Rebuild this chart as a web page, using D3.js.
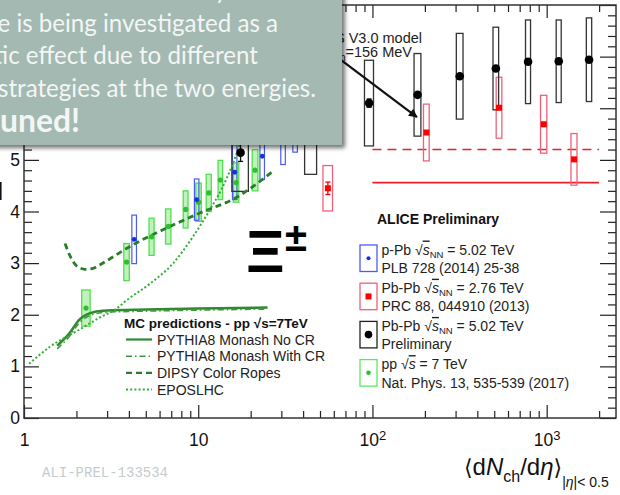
<!DOCTYPE html>
<html><head><meta charset="utf-8">
<script src="https://cdn.jsdelivr.net/npm/d3@7"></script>
<style>body{margin:0;background:#fff}svg{display:block}</style>
</head><body>
<svg id="c" width="620" height="495"></svg>
<script>
// ---------------- data ----------------
// Pb-Pb sqrt(sNN)=5.02 TeV (preliminary)
const pbpb502X    = [17.5, 44.3, 95.7, 181.5, 317, 511, 782, 1173, 1751];
const pbpb502Y    = [5.14, 5.55, 6.10, 6.26, 6.62, 6.77, 6.90, 6.91, 6.94];
const pbpb502Stat = [0.17, 0.08, 0.08, 0.05, 0.04, 0.04, 0.04, 0.04, 0.04];
const pbpb502Sys  = [0.75, 0.83, 0.83, 0.80, 0.83, 0.80, 0.81, 0.80, 0.81];
const pbpb502XErr = [1.9, 3.5, 5.7, 8.2, 14, 19, 26, 39, 62];
// Pb-Pb 2.76 TeV
const pbpb276X    = [55.5, 204, 533, 962, 1436];
const pbpb276Y    = [4.45, 5.53, 6.01, 5.69, 5.01];
const pbpb276Stat = [0.12, 0.05, 0.05, 0.05, 0.05];
const pbpb276Sys  = [0.44, 0.55, 0.59, 0.56, 0.50];
const pbpb276XErr = [3.5, 7.7, 20, 40, 57];
// p-Pb 5.02 TeV
const ppbX    = [4.29, 9.8, 16.2, 23.3, 30.7, 36.0];
const ppbY    = [3.46, 4.23, 4.76, 5.07, 5.36, 5.60];
const ppbSys  = [0.47, 0.40, 0.53, 0.45, 0.45, 0.45];
const ppbXErr = [0.13, 0.29, 0.48, 0.70, 0.92, 1.08];
// pp 7 TeV
const ppX    = [2.27, 3.88, 5.40, 6.73, 8.47, 10.05, 11.5, 13.4, 16.5, 21.2];
const ppY    = [2.13, 3.02, 3.51, 3.71, 4.04, 4.18, 4.36, 4.61, 4.56, 4.80];
const ppSys  = [0.35, 0.36, 0.36, 0.34, 0.36, 0.37, 0.36, 0.38, 0.38, 0.40];
const ppXErr = [0.127, 0.14, 0.18, 0.24, 0.27, 0.36, 0.39, 0.40, 0.60, 0.80];
// THERMUS lines
const thermusRange  = [100, 2000];
const thermusValues = [5.20, 4.56];   // dashed, solid
const arrowFrom = [65, 6.95];
const arrowTo   = [180, 5.83];
// MC curves [x, ratio]
const pythiaNoCR = [[1.55,1.40],[1.8,1.62],[2.1,1.92],[2.5,2.05],[3,2.08],[5,2.10],[10,2.12],[25,2.14]];
const pythiaCR   = [[1.55,1.34],[1.8,1.56],[2.1,1.86],[2.5,2.01],[3,2.05],[5,2.07],[10,2.09],[25,2.11]];
const dipsy      = [[1.72,3.38],[1.85,3.12],[2.0,2.95],[2.24,2.88],[2.5,2.90],[2.73,2.97],[4.24,3.36],[6.59,3.68],[10.2,3.97],[16.5,4.27],[26.4,4.76]];
const eposlhc    = [[1.07,1.05],[1.41,1.38],[2.1,1.72],[2.7,1.94],[3.4,2.12],[3.88,2.28],[5.28,2.6],[7.19,3.0],[9.36,3.52],[11.7,4.04],[13.6,4.43],[15.9,4.95],[17.3,5.3],[19,5.7]];
// ticks
const yMajor = [0,1,2,3,4,5,6,7,8];
const yMinor = d3.range(0, 8.001, 0.2).filter(v => Math.abs(v - Math.round(v)) > 1e-6);
const xMajor = [1, 10, 100, 1000];
const xMinor = [2,3,4,5,6,7,8,9,20,30,40,50,60,70,80,90,200,300,400,500,600,700,800,900,2000];
// legend texts
const mcLegend = ["PYTHIA8 Monash No CR","PYTHIA8 Monash With CR","DIPSY Color Ropes","EPOSLHC"];
const overlayLines = [
  "performance vs. under ve analysis. The",
  "difference is being investigated as a",
  "systematic effect due to different",
  "analysis strategies at the two energies."
];

// ---------------- drawing ----------------
const svg = d3.select("#c");
const FONT = "'Liberation Sans', Arial, Helvetica, sans-serif";
const x = d3.scaleLog().domain([1, 2500]).range([24, 616]);
const y = d3.scaleLinear().domain([0, 8]).range([418, 5]);

const defs = svg.append("defs");
defs.append("filter").attr("id","sh").attr("x","-10%").attr("y","-10%").attr("width","130%").attr("height","130%")
  .append("feDropShadow").attr("dx",3).attr("dy",3).attr("stdDeviation",2).attr("flood-color","#000").attr("flood-opacity",0.55);
defs.append("marker").attr("id","ah").attr("viewBox","0 0 10 10").attr("refX",9).attr("refY",5)
  .attr("markerWidth",5).attr("markerHeight",4).attr("markerUnits","strokeWidth").attr("orient","auto")
  .append("path").attr("d","M0,0L10,5L0,10z").attr("fill","#111");

svg.append("rect").attr("width",620).attr("height",495).attr("fill","#fff");

// axes
function styleAxis(g){ g.select(".domain").remove(); g.selectAll("line").attr("stroke","#222").attr("stroke-width",1.2);
  g.selectAll("text").attr("font-family",FONT).attr("font-size",17.5).attr("fill","#111"); }
svg.append("g").attr("transform","translate(24,0)")
  .call(d3.axisLeft(y).tickValues(yMajor).tickSize(-15).tickPadding(4).tickFormat(d3.format("d"))).call(styleAxis);
svg.append("g").attr("transform","translate(24,0)")
  .call(d3.axisLeft(y).tickValues(yMinor).tickSize(-8).tickFormat("")).call(styleAxis);
svg.append("g").attr("transform","translate(616,0)")
  .call(d3.axisRight(y).tickValues(yMajor).tickSize(-16).tickFormat("")).call(styleAxis);
svg.append("g").attr("transform","translate(616,0)")
  .call(d3.axisRight(y).tickValues(yMinor).tickSize(-8).tickFormat("")).call(styleAxis);
const bx = svg.append("g").attr("transform","translate(0,418)")
  .call(d3.axisBottom(x).tickValues(xMajor).tickSize(-13).tickPadding(16).tickFormat(d => d < 100 ? String(d) : "10")).call(styleAxis);
bx.selectAll("text").each(function(d){
  if (d >= 100) d3.select(this).append("tspan").attr("dy","-0.5em").attr("font-size",13).text(Math.round(Math.log10(d)));
});
svg.append("g").attr("transform","translate(0,418)")
  .call(d3.axisBottom(x).tickValues(xMinor).tickSize(-7).tickFormat("")).call(styleAxis);
svg.append("g").attr("transform","translate(0,5)")
  .call(d3.axisTop(x).tickValues(xMajor).tickSize(-13).tickFormat("")).call(styleAxis);
svg.append("g").attr("transform","translate(0,5)")
  .call(d3.axisTop(x).tickValues(xMinor).tickSize(-7).tickFormat("")).call(styleAxis);
svg.append("rect").attr("x",x(1)).attr("y",y(8)).attr("width",x(2500)-x(1)).attr("height",y(0)-y(8))
  .attr("fill","none").attr("stroke","#333").attr("stroke-width",1.5);

// THERMUS lines
thermusValues.forEach((v,i) => {
  svg.append("line").attr("x1",x(thermusRange[0])).attr("x2",x(thermusRange[1])).attr("y1",y(v)).attr("y2",y(v))
    .attr("stroke","#e8202a").attr("stroke-width",1.6).attr("stroke-dasharray", i===0 ? "9,6" : null);
});

// boxes
function boxes(X, Y, S, XE, stroke, fill, sw){
  svg.append("g").selectAll("rect").data(X).join("rect")
    .attr("x",(d,i)=>x(d - XE[i])).attr("width",(d,i)=>x(d + XE[i]) - x(d - XE[i]))
    .attr("y",(d,i)=>y(Y[i] + S[i])).attr("height",(d,i)=>y(Y[i] - S[i]) - y(Y[i] + S[i]))
    .attr("fill",fill).attr("stroke",stroke).attr("stroke-width",sw);
}
boxes(ppX, ppY, ppSys, ppXErr, "#4fe04f", "rgba(120,225,110,0.45)", 1.3);
boxes(ppbX, ppbY, ppbSys, ppbXErr, "#4a5cf0", "none", 1.2);
boxes(pbpb276X, pbpb276Y, pbpb276Sys, pbpb276XErr, "#f0607a", "none", 1.3);
boxes(pbpb502X, pbpb502Y, pbpb502Sys, pbpb502XErr, "#333", "none", 1.3);

// MC curves
const line = d3.line().x(d=>x(d[0])).y(d=>y(d[1])).curve(d3.curveMonotoneX);
const mcStyles = [
  {data: pythiaNoCR, color:"#2f8a2f", w:2.5, dash:null},
  {data: pythiaCR,   color:"#3a9a3a", w:1.6, dash:"6,3,1.5,3"},
  {data: dipsy,      color:"#2a7d2a", w:2.8, dash:"6,4"},
  {data: eposlhc,    color:"#30b030", w:2.0, dash:"2,2.2"}
];
mcStyles.forEach(s => svg.append("path").attr("d", line(s.data)).attr("fill","none")
  .attr("stroke", s.color).attr("stroke-width", s.w).attr("stroke-dasharray", s.dash));

// markers & stat bars
function statBars(X, Y, E, color){
  const g = svg.append("g").attr("stroke",color).attr("stroke-width",1.3);
  X.forEach((d,i) => {
    if (y(Y[i]-E[i]) - y(Y[i]+E[i]) < 8) return;
    g.append("line").attr("x1",x(d)).attr("x2",x(d)).attr("y1",y(Y[i]+E[i])).attr("y2",y(Y[i]-E[i]));
    [Y[i]+E[i], Y[i]-E[i]].forEach(v => g.append("line").attr("x1",x(d)-2.5).attr("x2",x(d)+2.5).attr("y1",y(v)).attr("y2",y(v)));
  });
}
statBars(pbpb502X, pbpb502Y, pbpb502Stat, "#111");
statBars(pbpb276X, pbpb276Y, pbpb276Stat, "#e00");
svg.append("g").selectAll("circle").data(ppX).join("circle")
  .attr("cx",d=>x(d)).attr("cy",(d,i)=>y(ppY[i])).attr("r",2.6).attr("fill","#2cc02c");
svg.append("g").selectAll("circle").data(ppbX).join("circle")
  .attr("cx",d=>x(d)).attr("cy",(d,i)=>y(ppbY[i])).attr("r",2.4).attr("fill","#1530e0");
svg.append("g").selectAll("rect").data(pbpb276X).join("rect")
  .attr("x",d=>x(d)-3).attr("y",(d,i)=>y(pbpb276Y[i])-3).attr("width",6).attr("height",6).attr("fill","#f00");
svg.append("g").selectAll("circle").data(pbpb502X).join("circle")
  .attr("cx",d=>x(d)).attr("cy",(d,i)=>y(pbpb502Y[i])).attr("r",4.3).attr("fill","#000");

// Xi label
svg.append("text").attr("x",246).attr("y",272).attr("font-family",FONT).attr("font-weight","bold")
  .attr("font-size",60).attr("fill","#000").text("Ξ");
svg.append("text").attr("x",285).attr("y",251).attr("font-family",FONT).attr("font-weight","bold")
  .attr("font-size",40).attr("fill","#000").text("±");

// MC legend
svg.append("text").attr("x",124).attr("y",328).attr("font-family",FONT).attr("font-weight","bold").attr("font-size",13.5)
  .attr("fill","#111").text("MC predictions - pp  √s=7TeV");
mcLegend.forEach((t,i) => {
  const yy = 339.5 + i*16.7;
  svg.append("line").attr("x1",126).attr("x2",152).attr("y1",yy).attr("y2",yy)
    .attr("stroke",mcStyles[i].color).attr("stroke-width",Math.min(mcStyles[i].w,2.2)).attr("stroke-dasharray",mcStyles[i].dash);
  svg.append("text").attr("x",157).attr("y",yy+5).attr("font-family",FONT).attr("font-size",14).attr("fill","#222").text(t);
});

// ALICE legend
svg.append("text").attr("x",377).attr("y",224).attr("font-family",FONT).attr("font-weight","bold").attr("font-size",14)
  .attr("fill","#111").text("ALICE Preliminary");
const aliceLeg = [
  {sys:"p-Pb", sNN:true, e:"= 5.02 TeV", l2:"PLB 728 (2014) 25-38", stroke:"#4a5cf0", mk:"c", mc:"#1530e0", r:2},
  {sys:"Pb-Pb", sNN:true, e:"= 2.76 TeV", l2:"PRC 88, 044910 (2013)", stroke:"#f0607a", mk:"s", mc:"#f00"},
  {sys:"Pb-Pb", sNN:true, e:"= 5.02 TeV", l2:"Preliminary", stroke:"#222", mk:"c", mc:"#000", r:3.8},
  {sys:"pp", sNN:false, e:"= 7 TeV", l2:"Nat. Phys. 13, 535-539 (2017)", stroke:"#5fe85f", mk:"c", mc:"#2cc02c", r:2.3}
];
aliceLeg.forEach((L,i) => {
  const top = 245 + i*38.2;
  svg.append("rect").attr("x",360).attr("y",top).attr("width",17).attr("height",26.5)
    .attr("fill","#fff").attr("stroke",L.stroke).attr("stroke-width",1.3);
  if (L.mk === "s") svg.append("rect").attr("x",365.5).attr("y",top+10.2).attr("width",6).attr("height",6).attr("fill",L.mc);
  else svg.append("circle").attr("cx",368.5).attr("cy",top+13.2).attr("r",L.r).attr("fill",L.mc);
  const t = svg.append("text").attr("x",381.5).attr("y",top+9.5).attr("font-family",FONT).attr("font-size",14).attr("fill","#222");
  t.append("tspan").text(L.sys + " √");
  t.append("tspan").attr("font-style","italic").attr("text-decoration","overline").text("s");
  if (L.sNN) t.append("tspan").attr("font-size",9.5).attr("dy",3).text("NN");
  t.append("tspan").attr("dy", L.sNN ? -3 : 0).text(" " + L.e);
  svg.append("text").attr("x",381.5).attr("y",top+28).attr("font-family",FONT).attr("font-size",14).attr("fill","#222").text(L.l2);
});

// THERMUS annotation and arrow
svg.append("text").attr("x",422).attr("y",43).attr("text-anchor","end").attr("font-family",FONT)
  .attr("font-size",14.5).attr("fill","#222").text("THERMUS V3.0 model");
const th2 = svg.append("text").attr("x",412).attr("y",57).attr("text-anchor","end").attr("font-family",FONT)
  .attr("font-size",14.5).attr("fill","#222");
th2.append("tspan").text("T");
th2.append("tspan").attr("font-size",10).attr("dy",4).text("ch");
th2.append("tspan").attr("dy",-4).text("=156 MeV");
svg.append("line").attr("x1",x(arrowFrom[0])).attr("y1",y(arrowFrom[1])).attr("x2",x(arrowTo[0])).attr("y2",y(arrowTo[1]))
  .attr("stroke","#111").attr("stroke-width",2.2).attr("marker-end","url(#ah)");

// axis title
const xt = svg.append("text").attr("x",464).attr("y",475).attr("font-family",FONT).attr("font-size",24).attr("fill","#111");
xt.append("tspan").attr("font-family","'DejaVu Sans', sans-serif").attr("font-size",22).text("⟨");
xt.append("tspan").text("d");
xt.append("tspan").attr("font-style","italic").text("N");
xt.append("tspan").attr("font-size",16).attr("dy",7).text("ch");
xt.append("tspan").attr("dy",-7).text("/d");
xt.append("tspan").attr("font-style","italic").text("η");
xt.append("tspan").attr("font-family","'DejaVu Sans', sans-serif").attr("font-size",22).text("⟩");
xt.append("tspan").attr("font-size",14).attr("dy",12).text("|");
xt.append("tspan").attr("font-size",14).attr("font-style","italic").text("η");
xt.append("tspan").attr("font-size",14).text("|< 0.5");

svg.append("text").attr("x",42).attr("y",477).attr("font-family","'Liberation Mono', monospace").attr("font-size",14)
  .attr("fill","#c4cccc").text("ALI-PREL-133534");

// stray glyph at the left edge (cropped slide text)
svg.append("text").attr("x",-4).attr("y",200).attr("font-family",FONT).attr("font-weight","bold").attr("font-size",26)
  .attr("fill","#111").text("I");

// overlay note box
const ov = svg.append("g");
ov.append("rect").attr("x",-10).attr("y",-10).attr("width",352).attr("height",155).attr("fill","#a3b9b2").attr("filter","url(#sh)");
const OVF = "Lato, 'Open Sans', sans-serif";
function fit(str, target, weight){
  const p = svg.append("text").attr("font-family",OVF).attr("font-weight",weight).attr("font-size",30).text(str);
  const s = 30 * target / p.node().getComputedTextLength(); p.remove(); return s;
}
const fs = fit("strategies at the two energies.", 318, "normal");
const fsb = fit("uned!", 80, "bold");
const ends = [305, 278, 258, 316];
const bases = [-1, 32, 64, 97];
overlayLines.forEach((t,i) => ov.append("text").attr("x",ends[i]).attr("y",bases[i]).attr("text-anchor","end")
  .attr("font-family",OVF).attr("font-size",fs).attr("fill","#f3f6f4").text(t));
ov.append("text").attr("x",80).attr("y",132).attr("text-anchor","end").attr("font-family",OVF).attr("font-weight","bold")
  .attr("font-size",fsb).attr("fill","#f3f6f4").text("Stay tuned!");
</script>
</body></html>
